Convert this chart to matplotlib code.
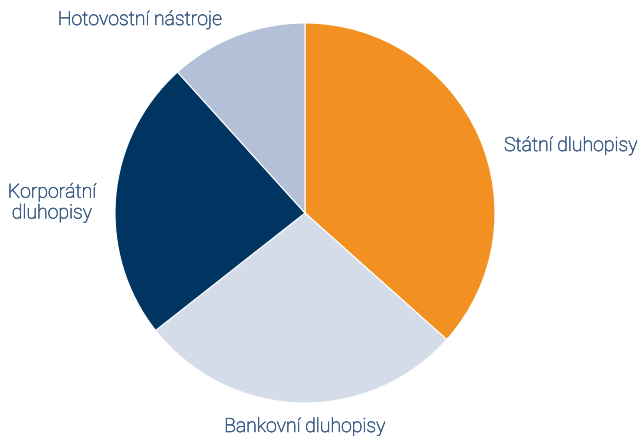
import matplotlib
matplotlib.use("Agg")
import matplotlib.pyplot as plt
import matplotlib.patheffects as pe

# ── data ────────────────────────────────────────────────────────────────────
labels = ["Státní dluhopisy", "Bankovní dluhopisy", "Korporátní\ndluhopisy", "Hotovostní nástroje"]
shares = [36.6, 27.8, 23.9, 11.7]
colors = ["#F39022", "#D5DCE9", "#003562", "#B3C0D7"]

TEXT = "#3E5F88"
W, H = 641, 436
CX, CY, R = 305, 213, 190

fig = plt.figure(figsize=(W / 100, H / 100), dpi=100)
ax = fig.add_axes([(CX - R) / W, (H - CY - R) / H, 2 * R / W, 2 * R / H])
ax.pie(shares, colors=colors, startangle=90, counterclock=False, radius=1,
       wedgeprops=dict(edgecolor="white", linewidth=0.8))
ax.set_xlim(-1, 1)
ax.set_ylim(-1, 1)
ax.axis("off")

def px(x, y):
    return (x - CX) / R, (CY - y) / R

# light face, thickened a touch so it sits between light and regular
font = dict(fontsize=14, color=TEXT, family=["Roboto", "DejaVu Sans"],
            fontweight="light", clip_on=False, va="center",
            path_effects=[pe.withStroke(linewidth=0.45, foreground=TEXT)])
ax.text(*px(504, 146), labels[0], ha="left", **font)
ax.text(*px(305, 427), labels[1], ha="center", **font)
ax.text(*px(52, 203), labels[2], ha="center", linespacing=1.2, **font)
ax.text(*px(140, 20), labels[3], ha="center", **font)

fig.savefig("out.png", dpi=100, facecolor="white")
